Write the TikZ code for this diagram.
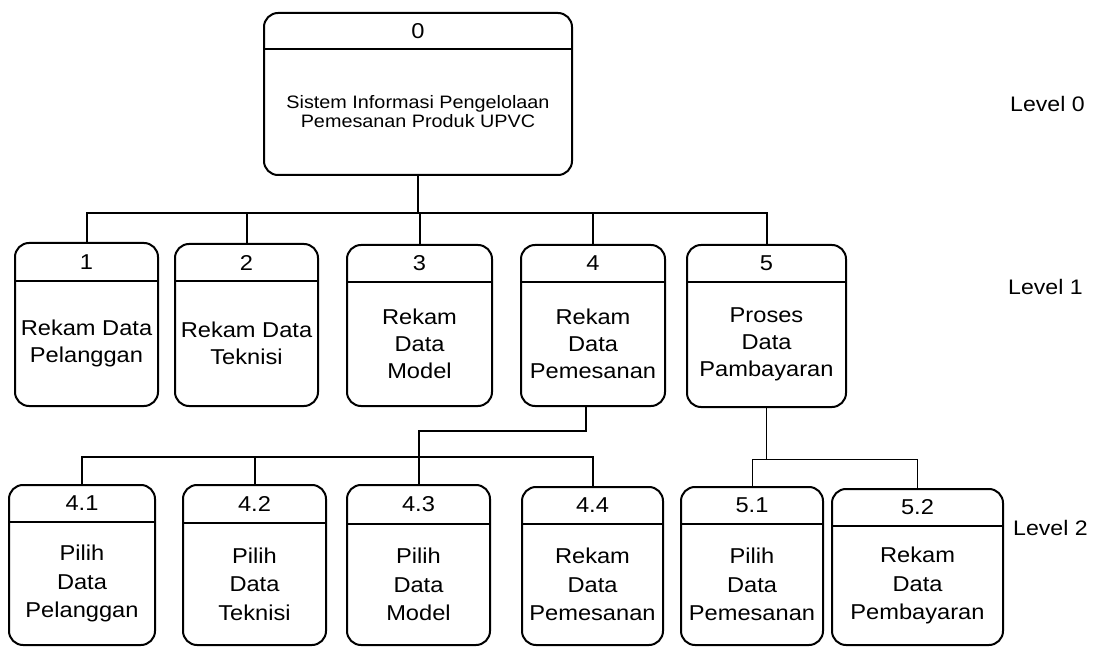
\documentclass[tikz,border=0pt]{standalone}
\usepackage{fontspec}
\setmainfont[FakeStretch=1.1]{Liberation Sans}
\usetikzlibrary{calc}
\tikzset{
  pbox/.style={draw, line width=2pt, rounded corners=14pt, inner sep=0pt, outer sep=0pt},
  num/.style={font=\fontsize{21.5}{22}\selectfont, inner sep=0pt},
  txt/.style={align=center, font=\fontsize{21.5}{27}\selectfont, inner sep=0pt},
  txtb/.style={align=center, font=\fontsize{21.5}{28.5}\selectfont, inner sep=0pt},
  txttop/.style={align=center, font=\fontsize{18}{19}\selectfont, inner sep=0pt},
  conn/.style={line width=2pt},
  thinconn/.style={line width=1pt},
  lvl/.style={anchor=west, font=\fontsize{21}{24}\selectfont, inner sep=0pt}
}
% name, left, top, right, bottom, header, number, text, textstyle
\newcommand\procbox[9]{%
  \node[pbox, minimum width={(#4-#2)*1pt}, minimum height={(#5-#3)*1pt}] (#1) at ({(#2+#4)/2},{-(#3+#5)/2}) {};
  \draw[line width=2pt] (#1.west |- 0,-#6) -- (#1.east |- 0,-#6);
  \node[num] (#1n) at ({(#2+#4)/2},{-(#3+#6)/2}) {#7};
  \node[#9] (#1t) at ({(#2+#4)/2},{-(#6+#5)/2}) {#8};
}
\begin{document}
\begin{tikzpicture}[x=1pt,y=1pt]
\useasboundingbox (0,0) rectangle (1096,-647);
\procbox{n0}{264}{13}{572}{175}{49}{0}{Sistem Informasi Pengelolaan\\Pemesanan Produk UPVC}{txttop}
\procbox{n1}{15}{243}{158}{406}{281}{1}{Rekam Data\\Pelanggan}{txt}
\procbox{n2}{175}{244}{318}{406}{281}{2}{Rekam Data\\Teknisi}{txt}
\procbox{n3}{347}{245}{492}{406}{282}{3}{Rekam\\Data\\Model}{txt}
\procbox{n4}{521}{245}{665}{406}{282}{4}{Rekam\\Data\\Pemesanan}{txt}
\procbox{n5}{687}{245}{846}{407}{282}{5}{Proses\\Data\\Pambayaran}{txt}
\procbox{n41}{9}{485}{155}{645}{522}{4.1}{Pilih\\Data\\Pelanggan}{txtb}
\procbox{n42}{183}{485}{326}{645}{523}{4.2}{Pilih\\Data\\Teknisi}{txtb}
\procbox{n43}{347}{485}{490}{645}{524}{4.3}{Pilih\\Data\\Model}{txtb}
\procbox{n44}{522}{487}{663}{645}{524}{4.4}{Rekam\\Data\\Pemesanan}{txtb}
\procbox{n51}{681}{487}{823}{645}{524}{5.1}{Pilih\\Data\\Pemesanan}{txtb}
\procbox{n52}{832}{489}{1003}{645}{526}{5.2}{Rekam\\Data\\Pembayaran}{txtb}
\node[lvl] (l0) at (1010,-104) {Level 0};
\node[lvl] (l1) at (1008,-287) {Level 1};
\node[lvl] (l2) at (1013,-528) {Level 2};
\coordinate (b1) at (0,-213);
\draw[conn] (n0.south) -- (n0.south |- b1);
\draw[conn] (n1.north) -- (n1.north |- b1) -- (n5.north |- b1) -- (n5.north);
\foreach \n in {n2,n3,n4} \draw[conn] (\n.north) -- (\n.north |- b1);
\coordinate (b2) at (0,-457);
\coordinate (b4) at (0,-431);
\draw[conn] (n41.north) -- (n41.north |- b2) -- (n44.north |- b2) -- (n44.north);
\draw[conn] (n42.north) -- (n42.north |- b2);
\draw[conn] ([xshift=-7pt]n4.south) -- ([xshift=-7pt]n4.south |- b4) -- (n43.north |- b4) -- (n43.north);
\coordinate (b5) at (0,-459);
\draw[thinconn] (n5.south) -- (n5.south |- b5);
\draw[thinconn] (n51.north) -- (n51.north |- b5) -- (n52.north |- b5) -- (n52.north);
\end{tikzpicture}
\end{document}
